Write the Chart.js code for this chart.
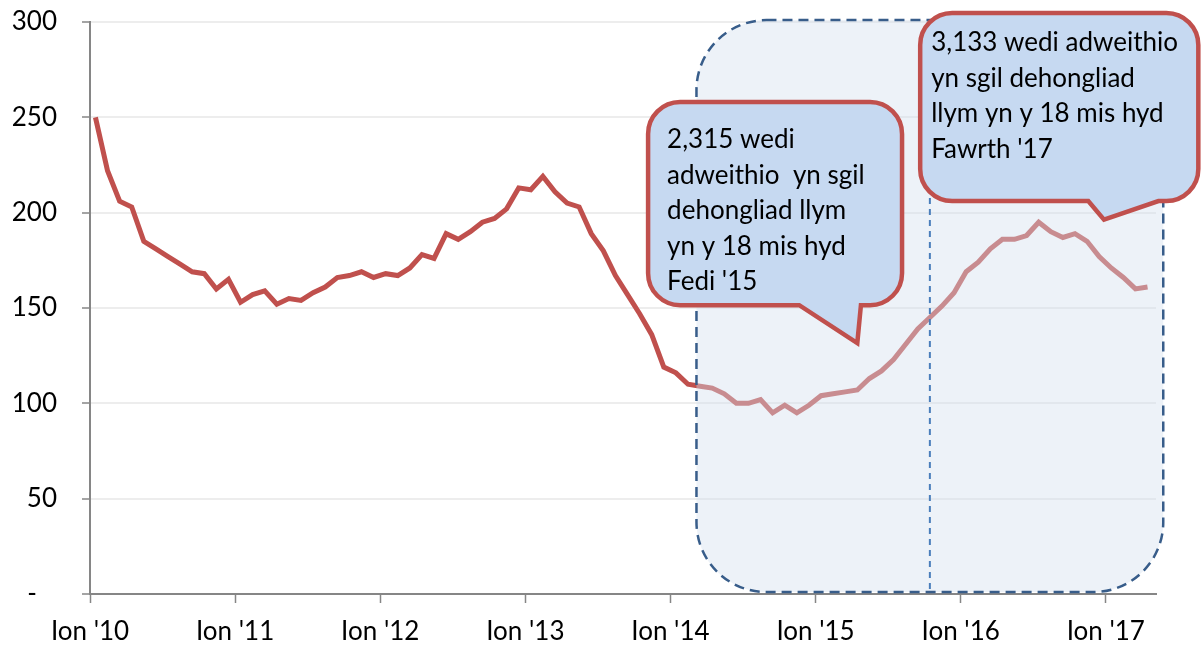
<!DOCTYPE html>
<html>
<head>
<meta charset="utf-8">
<script src="https://cdn.jsdelivr.net/npm/chart.js@4.4.1/dist/chart.umd.min.js"></script>
<style>
  body { margin: 0; background: #fff; }
  #wrap { width: 1202px; height: 646px; }
</style>
</head>
<body>
<div id="wrap"><canvas id="chart" width="1202" height="646"></canvas></div>
<script>
// monthly series, Ion 2010 -> Ebr 2017
const values = [
  250, 222, 206, 203, 185, 181, 177, 173, 169, 168, 160, 165,
  153, 157, 159, 152, 155, 154, 158, 161, 166, 167, 169, 166,
  168, 167, 171, 178, 176, 189, 186, 190, 195, 197, 202, 213,
  212, 219, 211, 205, 203, 189, 180, 167, 157, 147, 136, 119,
  116, 110, 109, 108, 105, 100, 100, 102, 95, 99, 95, 99,
  104, 105, 106, 107, 113, 117, 123, 131, 139, 145, 151, 158,
  169, 174, 181, 186, 186, 188, 195, 190, 187, 189, 185, 177,
  171, 166, 160, 161
];
const yearLabels = ["Ion '10", "Ion '11", "Ion '12", "Ion '13", "Ion '14", "Ion '15", "Ion '16", "Ion '17"];
const yTicks = [0, 50, 100, 150, 200, 250, 300];

const callout1 = ['2,315 wedi', 'adweithio  yn sgil', 'dehongliad llym', 'yn y 18 mis hyd', "Fedi '15"];
const callout2 = ['3,133 wedi adweithio', 'yn sgil dehongliad', 'llym yn y 18 mis hyd', "Fawrth '17"];

const tickShift = -0.45;   // Jan tick sits a little before the month's point
const FONT = 'Lato, "Open Sans", sans-serif';

// rounded rectangle with a speech pointer on the bottom edge
function calloutPath(ctx, x1, y1, x2, y2, r, baseL, baseR, tipX, tipY) {
  ctx.beginPath();
  ctx.moveTo(x1 + r, y1);
  ctx.lineTo(x2 - r, y1);
  ctx.arcTo(x2, y1, x2, y1 + r, r);
  ctx.lineTo(x2, y2 - r);
  ctx.arcTo(x2, y2, x2 - r, y2, r);
  ctx.lineTo(baseR, y2);
  ctx.lineTo(tipX, tipY);
  ctx.lineTo(baseL, y2);
  ctx.lineTo(x1 + r, y2);
  ctx.arcTo(x1, y2, x1, y2 - r, r);
  ctx.lineTo(x1, y1 + r);
  ctx.arcTo(x1, y1, x1 + r, y1, r);
  ctx.closePath();
}

const notes = {
  id: 'notes',
  afterDatasetsDraw(chart) {
    const ctx = chart.ctx;
    const xs = chart.scales.x, ys = chart.scales.y;
    const px = v => xs.getPixelForValue(v);
    const py = v => ys.getPixelForValue(v);

    // shaded period box
    ctx.save();
    const bx1 = px(49.7), bx2 = px(88.3), by1 = py(301), by2 = py(1);
    ctx.beginPath();
    ctx.roundRect(bx1, by1, bx2 - bx1, by2 - by1, 70);
    ctx.fillStyle = 'rgba(213,223,238,0.42)';
    ctx.fill();
    ctx.setLineDash([10, 6]);
    ctx.lineWidth = 2.5;
    ctx.strokeStyle = '#385D8A';
    ctx.stroke();

    // divider
    ctx.beginPath();
    ctx.setLineDash([6, 5]);
    ctx.lineWidth = 2;
    ctx.strokeStyle = '#4A7EBB';
    ctx.moveTo(px(69), py(300));
    ctx.lineTo(px(69), py(0));
    ctx.stroke();
    ctx.restore();

    // callouts
    const drawCallout = (b, lines) => {
      ctx.save();
      calloutPath(ctx, px(b.x1), py(b.y1), px(b.x2), py(b.y2), 32,
        px(b.baseL), px(b.baseR), px(b.tipX), py(b.tipY));
      ctx.fillStyle = '#C6D9F1';
      ctx.fill();
      ctx.lineWidth = 4.5;
      ctx.lineJoin = 'miter';
      ctx.strokeStyle = '#C0504D';
      ctx.stroke();
      ctx.fillStyle = '#000';
      ctx.font = '26px ' + FONT;
      ctx.textBaseline = 'alphabetic';
      lines.forEach((t, k) => ctx.fillText(t, px(b.x1) + b.padX, py(b.y1) + b.padY + k * 35.6));
      ctx.restore();
    };
    drawCallout({x1: 45.7, x2: 66.7, y1: 258, y2: 151.5, baseL: 58.2, baseR: 63.3,
                 tipX: 63.0, tipY: 131.6, padX: 19, padY: 46}, callout1);
    drawCallout({x1: 68.2, x2: 91.2, y1: 304.7, y2: 206.1, baseL: 82.1, baseR: 87.9,
                 tipX: 83.4, tipY: 196.3, padX: 11, padY: 38}, callout2);
  }
};

const ctx = document.getElementById('chart').getContext('2d');
new Chart(ctx, {
  type: 'line',
  data: {
    datasets: [{
      data: values.map((v, i) => ({x: i, y: v})),
      borderColor: '#C0504D',
      borderWidth: 5,
      pointRadius: 0,
      tension: 0,
      fill: false
    }]
  },
  options: {
    responsive: false,
    animation: false,
    layout: { padding: { top: 22, right: 46, left: 0, bottom: 0 } },
    plugins: { legend: { display: false }, tooltip: { enabled: false } },
    scales: {
      x: {
        type: 'linear',
        min: tickShift,
        max: 87.7,
        afterBuildTicks: s => { s.ticks = yearLabels.map((_, k) => ({ value: 12 * k + tickShift })); },
        afterFit: s => { s.height = 52; s.paddingLeft = 0; s.paddingRight = 0; },
        ticks: {
          autoSkip: false,
          maxRotation: 0,
          padding: 13,
          color: '#000',
          font: { family: FONT, size: 26 },
          callback: (v, i) => yearLabels[i]
        },
        grid: { drawOnChartArea: false, drawTicks: true, tickLength: 9, tickColor: '#868686', tickWidth: 1.5 },
        border: { color: '#868686', width: 2 }
      },
      y: {
        min: 0,
        max: 300,
        afterBuildTicks: s => { s.ticks = yTicks.map(v => ({ value: v })); },
        afterFit: s => { s.width = 90; s.paddingTop = 0; s.paddingBottom = 0; },
        ticks: {
          padding: 25,
          color: '#000',
          font: { family: FONT, size: 26 },
          callback: v => v === 0 ? '-   ' : v
        },
        grid: { color: '#EDEDED', lineWidth: 2, tickLength: 8, tickColor: '#868686', tickWidth: 1.5 },
        border: { color: '#868686', width: 2 }
      }
    }
  },
  plugins: [notes]
});
</script>
</body>
</html>
